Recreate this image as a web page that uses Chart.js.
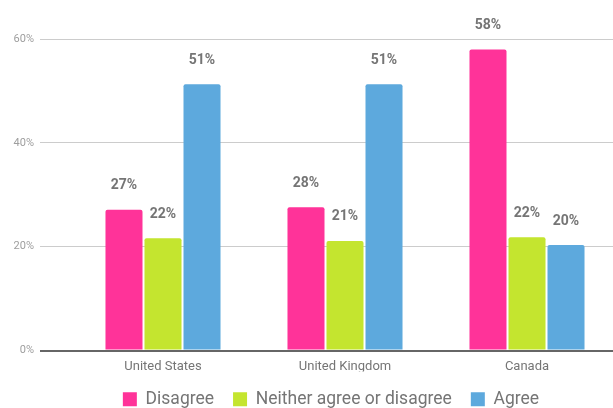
<!DOCTYPE html>
<html>
<head>
<meta charset="utf-8">
<script src="https://cdn.jsdelivr.net/npm/chart.js@4"></script>
<style>
  html, body { margin: 0; padding: 0; background: #fff; }
  #wrap { width: 613px; height: 408px; position: relative; }
</style>
</head>
<body>
<div id="wrap"><canvas id="c"></canvas></div>
<script>
const categories = ['United States', 'United Kingdom', 'Canada'];
const disagree = [27.1, 27.6, 58.0];
const neither = [21.6, 21.1, 21.8];
const agree = [51.3, 51.3, 20.3];
const seriesNames = ['Disagree', 'Neither agree or disagree', 'Agree'];
const yTicks = [0, 20, 40, 60];

const valueLabels = {
  id: 'valueLabels',
  afterDatasetsDraw(chart) {
    const ctx = chart.ctx;
    ctx.save();
    ctx.font = 'bold 14px Roboto';
    ctx.fillStyle = '#757575';
    ctx.textAlign = 'center';
    ctx.textBaseline = 'middle';
    chart.data.datasets.forEach((ds, i) => {
      const meta = chart.getDatasetMeta(i);
      meta.data.forEach((el, j) => {
        ctx.fillText(Math.round(ds.data[j]) + '%', el.x, el.y - 24);
      });
    });
    ctx.restore();
  }
};

// the reference's plot runs a little past the right edge of the picture
const widenPlot = {
  id: 'widenPlot',
  afterLayout(chart) {
    const x = chart.scales.x;
    const right = chart.width + 5;
    chart.chartArea.right = right;
    chart.chartArea.width = right - chart.chartArea.left;
    x.right = right;
    x.width = right - x.left;
    x.configure();
  }
};

// shift the legend so its centre sits under x = 331 like the reference
const legendShift = {
  id: 'legendShift',
  beforeDraw(chart) {
    const lg = chart.legend;
    if (!lg) return;
    const d = 331 - (lg.left + lg.right) / 2;
    lg.left += d; lg.right += d;
  }
};

new Chart(document.getElementById('c'), {
  type: 'bar',
  data: {
    labels: categories,
    datasets: [
      { label: seriesNames[0], data: disagree, backgroundColor: '#FF3399' },
      { label: seriesNames[1], data: neither, backgroundColor: '#C4E52F' },
      { label: seriesNames[2], data: agree, backgroundColor: '#5DA9DD' }
    ]
  },
  options: {
    responsive: true,
    maintainAspectRatio: false,
    animation: false,
    layout: { padding: { top: 39, left: 8, right: 0, bottom: -10 } },
    datasets: {
      bar: { categoryPercentage: 0.643, barPercentage: 0.949, borderRadius: { topLeft: 2, topRight: 2 }, borderSkipped: 'bottom' }
    },
    scales: {
      x: {
        grid: { display: false, drawTicks: false },
        border: { display: false },
        ticks: { color: '#757575', font: { family: 'Roboto', size: 13 }, padding: 8 },
        afterFit(s) { s.height = 21; }
      },
      y: {
        min: 0, max: 60,
        afterBuildTicks(s) { s.ticks = yTicks.map(v => ({ value: v })); },
        border: { display: false },
        grid: {
          color: c => (c.tick && c.tick.value === 0) ? '#666666' : '#cccccc',
          lineWidth: c => (c.tick && c.tick.value === 0) ? 2 : 1,
          tickLength: 32
        },
        ticks: {
          color: '#9e9e9e', font: { family: 'Roboto', size: 11 }, padding: 6,
          callback: v => v + '%'
        },
        afterFit(s) { s.width = 64; }
      }
    },
    plugins: {
      legend: {
        position: 'bottom',
        labels: {
          boxWidth: 14, boxHeight: 14, padding: 19,
          color: '#757575', font: { family: 'Roboto', size: 17.5 }
        }
      },
      tooltip: { enabled: false }
    }
  },
  plugins: [valueLabels, widenPlot, legendShift]
});
</script>
</body>
</html>
